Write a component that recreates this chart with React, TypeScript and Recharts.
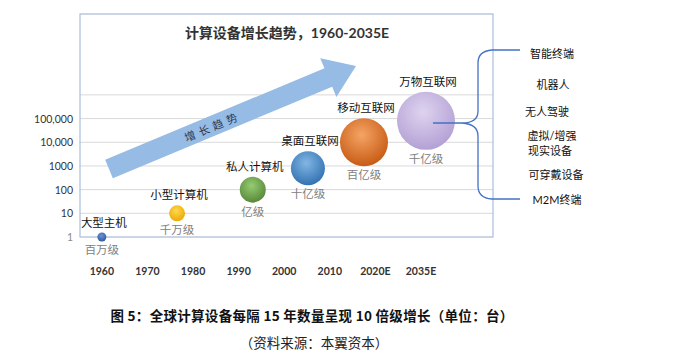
import React from "react";
import {
  ScatterChart,
  Scatter,
  XAxis,
  YAxis,
  ZAxis,
  CartesianGrid,
  ReferenceArea,
} from "recharts";

// 各时代（气泡）
const eras = ["大型主机", "小型计算机", "私人计算机", "桌面互联网", "移动互联网", "万物互联网"];
const levels = ["百万级", "千万级", "亿级", "十亿级", "百亿级", "千亿级"];
// 气泡在横轴上的位置（以年份刻度序号计）
const eraPos = [0, 1.65, 3.31, 4.52, 5.75, 7.11];
// 纵轴数值（对数刻度）
const deviceCount = [1, 10, 100, 800, 10000, 80000];
// 气泡大小
const bubbleSize = [20, 64, 169, 289, 576, 841];

const yearLabels = ["1960", "1970", "1980", "1990", "2000", "2010", "2020E", "2035E"];
const yTicks = [1, 10, 100, 1000, 10000, 100000, 1000000];
const yTickLabels = ["1", "10", "100", "1000", "10,000", "100,000", ""];

const rightItems = ["智能终端", "机器人", "无人驾驶", "虚拟/增强", "现实设备", "可穿戴设备", "M2M终端"];

const bubbleFill = [
  ["#6A93DC", "#2F5597"],
  ["#FFD84D", "#E8A600"],
  ["#95CC72", "#548235"],
  ["#82B6E4", "#2E6DAE"],
  ["#F5A465", "#C4560F"],
  ["#DED3EF", "#B19DD3"],
];

const CJK = "'Noto Sans CJK SC', 'Noto Sans', sans-serif";
const LATIN = "Lato, 'Noto Sans CJK SC', sans-serif";

const data = eras.map((name, i) => ({
  x: eraPos[i],
  y: deviceCount[i],
  z: bubbleSize[i],
  name,
  level: levels[i],
  i,
}));

const Bubble = (props: any) => {
  const { cx, cy, width, size, payload } = props;
  const r = width ? width / 2 : Math.sqrt(size / Math.PI);
  const i = payload.i;
  const id = `bub-${i}`;
  return (
    <g>
      <defs>
        <radialGradient id={id} cx="45%" cy="35%" r="70%">
          <stop offset="0%" stopColor={bubbleFill[i][0]} />
          <stop offset="100%" stopColor={bubbleFill[i][1]} />
        </radialGradient>
      </defs>
      <circle cx={cx} cy={cy} r={r} fill={`url(#${id})`} />
      <text
        x={cx + 2}
        y={cy - r - 6}
        textAnchor="middle"
        fontSize={11.5}
        fontFamily={CJK}
        fill="#111"
      >
        {payload.name}
      </text>
      <text
        x={cx}
        y={cy + r + 13}
        textAnchor="middle"
        fontSize={11.5}
        fontFamily={CJK}
        fill="#808080"
      >
        {payload.level}
      </text>
    </g>
  );
};

const XTick = (props: any) => {
  const { x, y, payload } = props;
  return (
    <text
      x={x}
      y={y + 30}
      textAnchor="middle"
      fontSize={10.5}
      fontWeight="bold"
      fontFamily={LATIN}
      fill="#333"
    >
      {yearLabels[payload.value]}
    </text>
  );
};

const YTick = (props: any) => {
  const { x, y, payload } = props;
  const idx = yTicks.indexOf(payload.value);
  return (
    <text
      x={x + 1}
      y={y + 4}
      textAnchor="end"
      fontSize={10.5}
      fontFamily={LATIN}
      fill={idx === 0 ? "#8a8a8a" : "#333"}
    >
      {yTickLabels[idx]}
    </text>
  );
};

export default function App() {
  // 箭头几何
  const tail = [109, 169];
  const tip = [356, 66];
  const dx = tip[0] - tail[0];
  const dy = tip[1] - tail[1];
  const len = Math.sqrt(dx * dx + dy * dy);
  const u = [dx / len, dy / len];
  const n = [-u[1], u[0]];
  const head = [tip[0] - 30 * u[0], tip[1] - 30 * u[1]];
  const p = (b: number[], k: number) => `${b[0] + k * n[0]},${b[1] + k * n[1]}`;
  const arrowPts = [
    p(tail, -10),
    p(head, -10),
    p(head, -21),
    `${tip[0]},${tip[1]}`,
    p(head, 21),
    p(head, 10),
    p(tail, 10),
  ].join(" ");
  const angle = (Math.atan2(dy, dx) * 180) / Math.PI;
  const mid = [tail[0] + 112 * u[0], tail[1] + 112 * u[1]];

  const rightY = [54, 85, 112, 136, 151, 175, 200];
  const rightX = [552, 553, 547, 552, 550, 556, 557];

  return (
    <div style={{ position: "absolute", left: 0, top: 0, width: 686, height: 363, background: "#fff" }}>
      <ScatterChart
        width={686}
        height={363}
        margin={{ top: 14, right: 193, bottom: 86, left: 34 }}
      >
        <CartesianGrid vertical={false} stroke="#D9D9D9" />
        <XAxis
          type="number"
          dataKey="x"
          domain={[-0.48, 8.58]}
          ticks={[0, 1, 2, 3, 4, 5, 6, 7]}
          axisLine={false}
          tickLine={false}
          height={40}
          tick={<XTick />}
        />
        <YAxis
          type="number"
          dataKey="y"
          scale="log"
          domain={[1, 2.6e9]}
          ticks={yTicks}
          axisLine={false}
          tickLine={false}
          width={46}
          tick={<YTick />}
        />
        <ZAxis type="number" dataKey="z" domain={[0, 841]} range={[0, Math.PI * 841]} />
        <ReferenceArea
          x1={-0.48}
          x2={8.58}
          y1={1}
          y2={2.6e9}
          fill="none"
          stroke="#A9BEE0"
          strokeWidth={1.2}
          fillOpacity={0}
        />
        <Scatter data={data} shape={<Bubble />} isAnimationActive={false} />
      </ScatterChart>

      <svg
        width={686}
        height={363}
        style={{ position: "absolute", left: 0, top: 0, pointerEvents: "none" }}
      >
        <text
          x={287}
          y={38}
          textAnchor="middle"
          fontSize={14}
          fontWeight="bold"
          fontFamily={LATIN}
          fill="#333"
        >
          计算设备增长趋势，1960-2035E
        </text>

        <polygon points={arrowPts} fill="#96BBE5" />
        <text
          x={mid[0]}
          y={mid[1]}
          transform={`rotate(${angle} ${mid[0]} ${mid[1]})`}
          textAnchor="middle"
          dominantBaseline="central"
          fontSize={11}
          letterSpacing={4}
          fontFamily={CJK}
          fill="#2E3B55"
        >
          增长趋势
        </text>

        <path
          d="M433,123 L462,123 Q478,123 478,111 L478,63 Q478,51 492,50 L520,50 M462,123 Q478,124 478,136 L478,186 Q478,198 492,199 L520,199"
          fill="none"
          stroke="#4472C4"
          strokeWidth={1.3}
        />
        {rightItems.map((t, i) => (
          <text
            key={t}
            x={rightX[i]}
            y={rightY[i] + 4}
            textAnchor="middle"
            fontSize={11}
            fontFamily={LATIN}
            fill="#111"
          >
            {t}
          </text>
        ))}

        <text
          x={312}
          y={321}
          textAnchor="middle"
          fontSize={13.5}
          letterSpacing={0.3}
          fontWeight="bold"
          fontFamily={CJK}
          fill="#111"
        >
          图 5：全球计算设备每隔 15 年数量呈现 10 倍级增长（单位：台）
        </text>
        <text
          x={314}
          y={348}
          textAnchor="middle"
          fontSize={13.5}
          fontFamily={CJK}
          fill="#222"
        >
          （资料来源：本翼资本）
        </text>
      </svg>
    </div>
  );
}
